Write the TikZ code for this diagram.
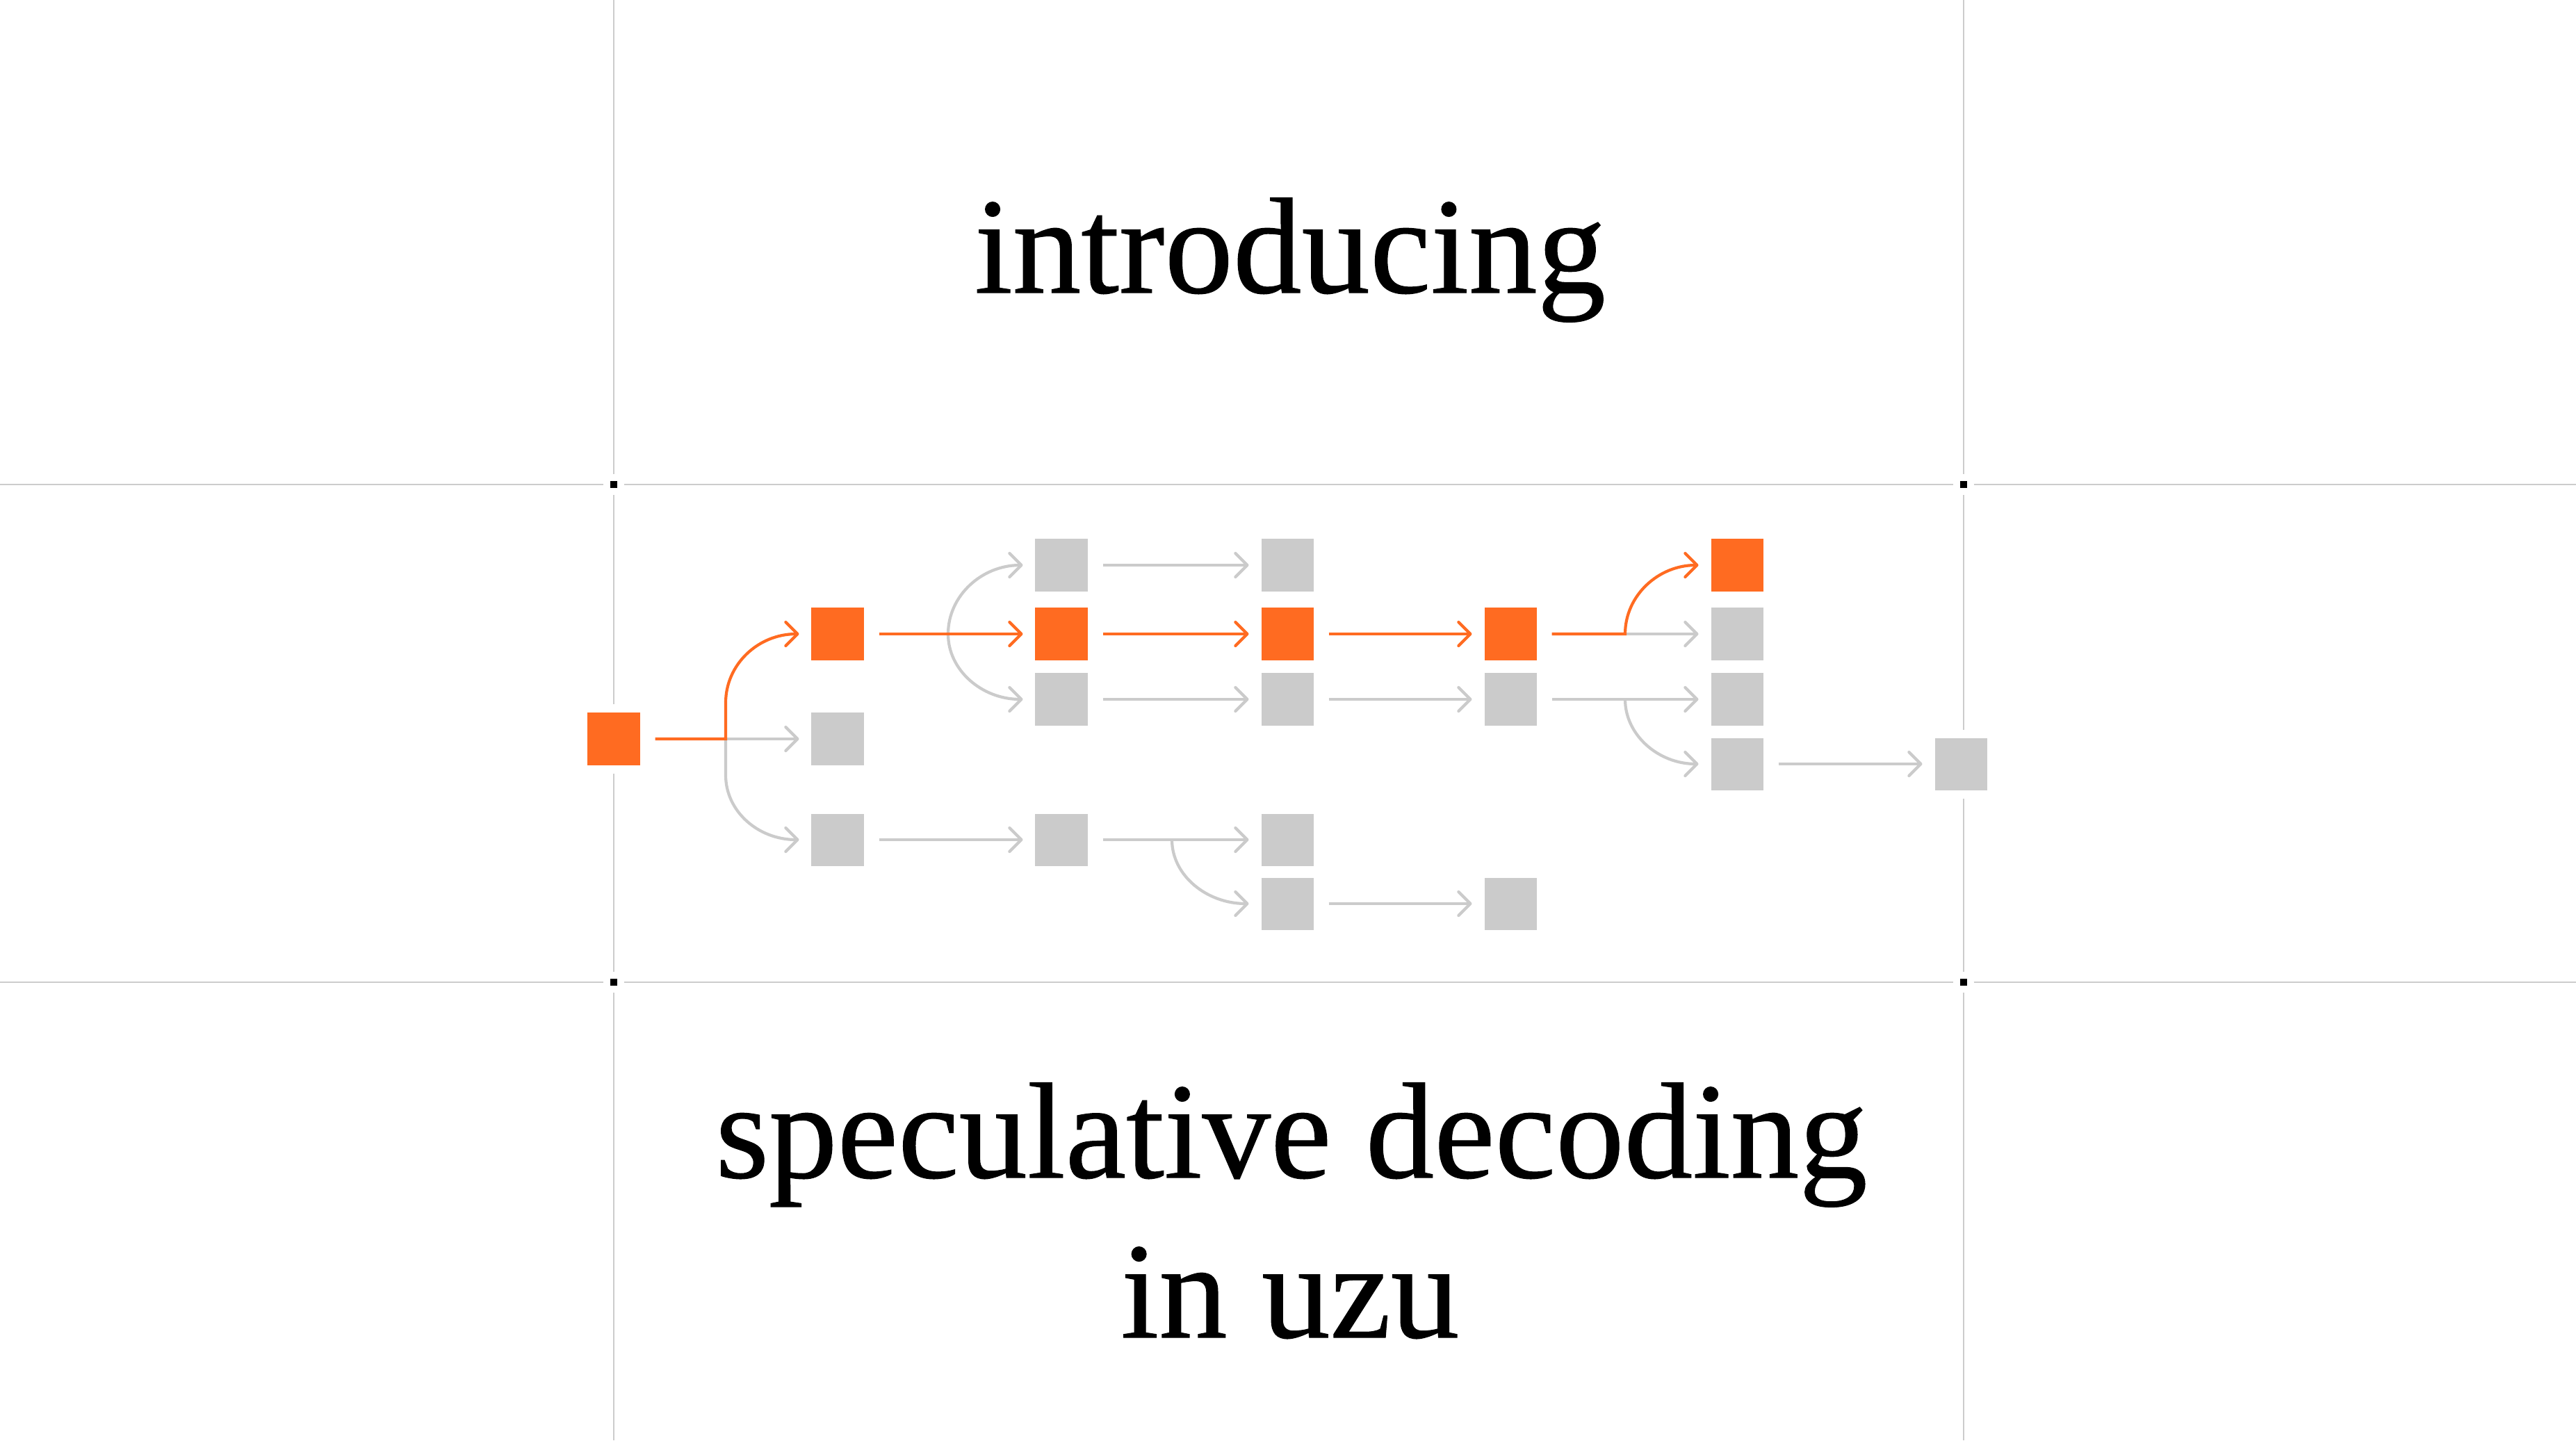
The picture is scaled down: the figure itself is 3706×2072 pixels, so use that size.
\documentclass[tikz,border=0pt]{standalone}
\usepackage{fontspec}
\setmainfont{Liberation Serif}
\newfontfamily\uzutitle{Liberation Serif}[FakeBold=0.6]
\usetikzlibrary{arrows.meta,calc}
\definecolor{uzuorange}{HTML}{FF6B21}
\definecolor{uzugray}{HTML}{CBCBCB}
\definecolor{gridgray}{HTML}{CCCCCC}
\tikzset{
  osq/.style={rectangle, fill=uzuorange, minimum size=0.75cm, inner sep=0pt, outer sep=0pt},
  gsq/.style={rectangle, fill=uzugray, minimum size=0.75cm, inner sep=0pt, outer sep=0pt},
  oline/.style={draw=uzuorange, line width=0.042cm},
  gline/.style={draw=uzugray, line width=0.042cm},
  barb/.style={-{Straight Barb[length=0.17cm,width=0.34cm,line cap=round,line join=round]}},
  oarr/.style={oline, barb},
  garr/.style={gline, barb},
  gridline/.style={draw=gridgray, line width=0.02cm},
  tickmark/.style={rectangle, fill=black, minimum size=0.1cm, inner sep=0pt, outer sep=0pt},
  title/.style={inner sep=0pt, outer sep=0pt, anchor=base, font=\uzutitle\fontsize{56pt}{67pt}\selectfont}
}
\begin{document}
\begin{tikzpicture}[x=0.01cm,y=-0.01cm]
\useasboundingbox (0,0) rectangle (3706,2072);
\fill[white] (0,0) rectangle (3706,2072);

% grid lines with gaps
\draw[gridline] (882.5,0) -- (882.5,682) (882.5,712) -- (882.5,1013) (882.5,1113) -- (882.5,1398) (882.5,1428) -- (882.5,2072);
\draw[gridline] (2824.5,0) -- (2824.5,682) (2824.5,712) -- (2824.5,1050) (2824.5,1149) -- (2824.5,1398) (2824.5,1428) -- (2824.5,2072);
\draw[gridline] (0,697) -- (867.5,697) (897.5,697) -- (2809.5,697) (2839.5,697) -- (3706,697);
\draw[gridline] (0,1413) -- (867.5,1413) (897.5,1413) -- (2809.5,1413) (2839.5,1413) -- (3706,1413);
\node[tickmark] (tl) at (882.5,697) {};
\node[tickmark] (tr) at (2824.5,697) {};
\node[tickmark] (bl) at (882.5,1413) {};
\node[tickmark] (br) at (2824.5,1413) {};

% titles
\node[title] (t1) at (1856,421) {introducing};
\node[title] (t2) at (1858,1694) {speculative decoding};
\node[title] (t3) at (1856,1924) {in uzu};

% squares
\node[osq] (n0) at (883,1063) {};
\node[osq] (n1a) at (1205,912) {};
\node[gsq] (n1b) at (1205,1063) {};
\node[gsq] (n1c) at (1205,1208) {};
\node[gsq] (n2a) at (1527,813) {};
\node[osq] (n2b) at (1527,912) {};
\node[gsq] (n2c) at (1527,1006) {};
\node[gsq] (n2e) at (1527,1208) {};
\node[gsq] (n3a) at (1852,813) {};
\node[osq] (n3b) at (1852,912) {};
\node[gsq] (n3c) at (1852,1006) {};
\node[gsq] (n3e) at (1852,1208) {};
\node[gsq] (n3f) at (1852,1300) {};
\node[osq] (n4b) at (2173,912) {};
\node[gsq] (n4c) at (2173,1006) {};
\node[gsq] (n4f) at (2173,1300) {};
\node[osq] (n5a) at (2499,813) {};
\node[gsq] (n5b) at (2499,912) {};
\node[gsq] (n5c) at (2499,1006) {};
\node[gsq] (n5d) at (2499,1099) {};
\node[gsq] (n6d) at (2821,1099) {};

% branch points
\coordinate (j0) at (1044,1063);
\coordinate (j1) at (1364,912);
\coordinate (j2) at (1686,1208);
\coordinate (j3) at (2338,912);
\coordinate (j4) at (2338,1006);

% column 0 -> 1
\draw[garr] (j0) -- ([xshift=-0.18cm]n1b.west);
\draw[garr] (j0) -- ++(0,52) .. controls +(0,52) and +(-59,0) .. ([xshift=-0.18cm]n1c.west);
\draw[oarr] ([xshift=0.22cm]n0.east) -- (j0) -- ++(0,-52) .. controls +(0,-55) and +(-59,0) .. ([xshift=-0.18cm]n1a.west);

% column 1 -> 2
\draw[garr] (j1) .. controls +(0,-55) and +(-59,0) .. ([xshift=-0.18cm]n2a.west);
\draw[garr] (j1) .. controls +(0,52) and +(-59,0) .. ([xshift=-0.18cm]n2c.west);
\draw[oarr] ([xshift=0.22cm]n1a.east) -- ([xshift=-0.18cm]n2b.west);
\draw[garr] ([xshift=0.22cm]n1c.east) -- ([xshift=-0.18cm]n2e.west);

% column 2 -> 3
\draw[garr] ([xshift=0.22cm]n2a.east) -- ([xshift=-0.18cm]n3a.west);
\draw[oarr] ([xshift=0.22cm]n2b.east) -- ([xshift=-0.18cm]n3b.west);
\draw[garr] ([xshift=0.22cm]n2c.east) -- ([xshift=-0.18cm]n3c.west);
\draw[garr] ([xshift=0.22cm]n2e.east) -- ([xshift=-0.18cm]n3e.west);
\draw[garr] (j2) .. controls +(0,51) and +(-61,0) .. ([xshift=-0.18cm]n3f.west);

% column 3 -> 4
\draw[oarr] ([xshift=0.22cm]n3b.east) -- ([xshift=-0.18cm]n4b.west);
\draw[garr] ([xshift=0.22cm]n3c.east) -- ([xshift=-0.18cm]n4c.west);
\draw[garr] ([xshift=0.22cm]n3f.east) -- ([xshift=-0.18cm]n4f.west);

% column 4 -> 5
\draw[garr] (j3) -- ([xshift=-0.18cm]n5b.west);
\draw[oarr] ([xshift=0.22cm]n4b.east) -- (j3) .. controls +(0,-55) and +(-58,0) .. ([xshift=-0.18cm]n5a.west);
\draw[garr] ([xshift=0.22cm]n4c.east) -- ([xshift=-0.18cm]n5c.west);
\draw[garr] (j4) .. controls +(0,51) and +(-58,0) .. ([xshift=-0.18cm]n5d.west);

% column 5 -> 6
\draw[garr] ([xshift=0.22cm]n5d.east) -- ([xshift=-0.18cm]n6d.west);
\end{tikzpicture}
\end{document}
